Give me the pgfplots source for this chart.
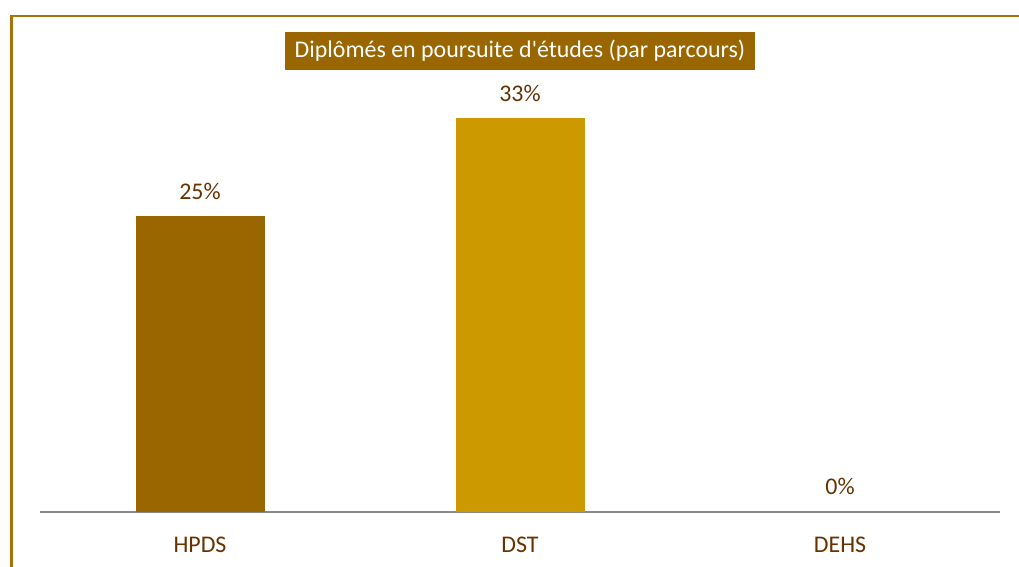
\documentclass[border=0pt]{standalone}
\usepackage{pgfplots}
\pgfplotsset{compat=1.18}
\usepackage{fontspec}
\setmainfont{Carlito}[Ligatures=TeXOff]
\definecolor{cFrame}{HTML}{A87206}
\definecolor{cHPDS}{HTML}{996600}
\definecolor{cDST}{HTML}{CC9900}
\definecolor{cText}{HTML}{663300}
\definecolor{cAxis}{HTML}{898989}

\begin{document}
\begin{tikzpicture}[x=1bp,y=1bp]
\useasboundingbox (0,0) rectangle (1019,567);
\draw[cFrame, line width=2.5bp] (11.5,0) -- (11.5,551) -- (1019,551);
\begin{axis}[
    at={(40bp,55bp)}, anchor=south west,
    scale only axis, width=960bp, height=450bp,
    xmin=-0.5, xmax=2.5, ymin=0, ymax=38.07,
    axis x line=bottom, axis y line=none,
    x axis line style={cAxis, line width=1.8bp, -},
    xtick={0,1,2}, xticklabels={HPDS,DST,DEHS},
    xtick style={draw=none}, major tick length=0pt,
    xticklabel style={anchor=base, yshift=-40.5bp, text=cText, font=\fontsize{24}{28}\selectfont},
    /pgf/number format/assume math mode=true,
    ybar, bar width=129bp, bar shift=0pt,
    nodes near coords={\pgfmathprintnumber[fixed,precision=0]{\pgfplotspointmeta}\%},
    nodes near coords style={anchor=base, yshift=17bp, text=cText, font=\fontsize{24}{28}\selectfont},
    clip=false,
]
\addplot[fill=cHPDS, draw=none] coordinates {(0,25)};
\addplot[fill=cDST, draw=none] coordinates {(1,33.33)};
\addplot[fill=none, draw=none] coordinates {(2,0)};
\end{axis}
\node[fill=cHPDS, text=white, minimum width=470bp, minimum height=38bp, inner sep=0pt,
      font=\fontsize{24}{28}\selectfont] at (520,516) {Diplômés en poursuite d'études (par parcours)};
\end{tikzpicture}
\end{document}
